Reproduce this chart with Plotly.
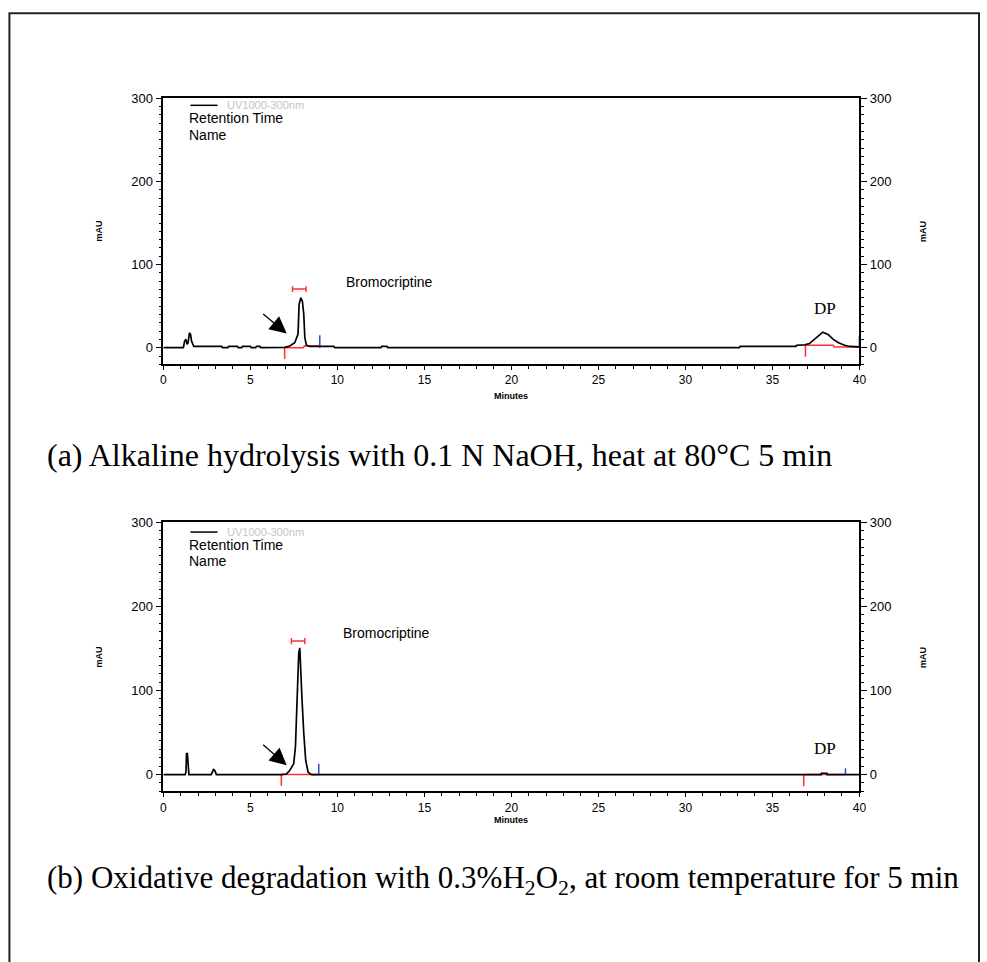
import plotly.graph_objects as go

# ---------------- data: chromatogram (a) alkaline hydrolysis ----------------
time_a = [0, 1.15, 1.22, 1.3, 1.36, 1.42, 1.5, 1.56, 1.62, 1.7, 1.75, 3.35, 3.4, 3.7, 3.75, 4.25, 4.3,
          4.5, 4.55, 5.0, 5.05, 5.3, 5.35, 5.55, 5.6, 6.97, 7.26, 7.55, 7.74, 7.8, 7.9, 7.99, 8.07,
          8.13, 8.22, 8.41, 9.8, 9.85, 12.5, 12.55, 12.85, 12.9, 33.1, 33.15, 36.35, 36.4, 36.85,
          37.13, 37.5, 37.9, 38.2, 38.5, 38.8, 39.15, 39.45, 40]
mau_a = [0, 0, 8, 10, 4, 6, 18, 16, 8, 2, 1.5, 1.5, 0, 0, 1.5, 1.5, 0,
         0, 1.5, 1.5, 0, 0, 1.5, 1.5, 0, 0.5, 2, 6, 16.5, 52, 60, 56, 40,
         12, 3, 1.5, 1.5, 0, 0, 1.5, 1.5, 0, 0, 1.5, 1.5, 3, 3.5,
         5, 11.6, 18.7, 16, 10, 6, 3, 1.5, 1]

# ---------------- data: chromatogram (b) oxidative degradation --------------
time_b = [0, 1.25, 1.3, 1.33, 1.38, 1.42, 1.47, 2.75, 2.88, 2.95, 3.05, 6.78, 7.07, 7.26, 7.49,
          7.59, 7.7, 7.78, 7.84, 7.9, 7.97, 8.07, 8.18, 8.32, 8.51, 37.8, 37.82, 38.13, 38.15, 40]
mau_b = [0, 0, 3, 25, 25, 5, 0, 0, 6, 5, 0, 0, 0.7, 4.8, 12.8,
         32.8, 88.8, 144.8, 150.8, 128.8, 88.8, 48.8, 16.8, 2.8, 0, 0, 1.6, 1.6, 0, 0]

# integration markers (red baselines / drop lines, blue end ticks, red brackets)
red_a_x = [6.97, 6.97, None, 6.97, 8.05, 8.1, 8.99, None, 36.9, 36.9, None, 36.9, 38.5, 38.55, 40]
red_a_y = [0, -13.6, None, 0, 0, 2, 2, None, 3, -11, None, 3, 3, 1, 1]
blue_a_x = [8.99, 8.99, None, 40, 40]
blue_a_y = [0, 15, None, 0, 14]
brk_a_x = [7.42, 7.42, None, 7.42, 8.2, None, 8.2, 8.2]
brk_a_y = [67, 74, None, 70.6, 70.6, None, 67, 74]

red_b_x = [6.78, 6.78, None, 6.78, 8.93, None, 36.8, 36.8, None, 36.8, 39.2]
red_b_y = [0, -13.2, None, 0, 0, None, 0, -14, None, 0, 0]
blue_b_x = [8.93, 8.93, None, 39.2, 39.2]
blue_b_y = [0, 12.8, None, 0, 7.6]
brk_b_x = [7.36, 7.36, None, 7.36, 8.13, None, 8.13, 8.13]
brk_b_y = [155, 162.5, None, 158.8, 158.8, None, 155, 162.5]

# labels
peak_label = "Bromocriptine"
peak_label_a = (13.0, 79.5)
peak_label_b = (12.8, 169)
dp_label_a = (38.04, 46.6)
dp_label_b = (38.0, 30.8)
arrow_a = {"tail": (5.65, 42), "head": (7.09, 17)}
arrow_b = {"tail": (5.65, 37), "head": (7.09, 11)}
x_ticks = [0, 5, 10, 15, 20, 25, 30, 35, 40]
y_ticks = [0, 100, 200, 300]
caption_a = "(a) Alkaline hydrolysis with 0.1 N NaOH, heat at 80°C 5 min"
caption_b = "(b) Oxidative degradation with 0.3%H<sub>2</sub>O<sub>2</sub>, at room temperature for 5 min"

W, H = 987, 962
# small correction for the way the page is photographed (measured on an earlier render)
SX, OX, SY, OY = 0.987, 4.1, 0.9926, 6.7
def px(x):
    return min(max((x - OX) / SX, 0), W - 1) / W
def py(y):
    return 1 - min(max((y - OY) / SY, 0), H) / H

fig = go.Figure()
# chromatograms on the right-hand axes (same scale as left), markers on the left-hand axes
for xs, ys, xa, ya in [(time_a, mau_a, "x", "y3"), (time_b, mau_b, "x2", "y4")]:
    fig.add_trace(go.Scatter(x=xs, y=ys, mode="lines", line=dict(color="black", width=1.7),
                             xaxis=xa, yaxis=ya, showlegend=False, hoverinfo="skip"))
for xs, ys, col, xa, ya in [(red_a_x, red_a_y, "#ff3030", "x", "y"), (blue_a_x, blue_a_y, "#3050c0", "x", "y"),
                            (brk_a_x, brk_a_y, "#ff3030", "x", "y"),
                            (red_b_x, red_b_y, "#ff3030", "x2", "y2"), (blue_b_x, blue_b_y, "#3050c0", "x2", "y2"),
                            (brk_b_x, brk_b_y, "#ff3030", "x2", "y2")]:
    fig.add_trace(go.Scatter(x=xs, y=ys, mode="lines", line=dict(color=col, width=1.5),
                             xaxis=xa, yaxis=ya, showlegend=False, hoverinfo="skip", connectgaps=False))

tickfont = dict(family="Arial, Liberation Sans", size=13, color="black")
xtickfont = dict(family="Arial, Liberation Sans", size=12, color="black")
xdom = [px(164), px(858)]
dom_a = [py(364), py(98)]
dom_b = [py(791), py(522)]

def xaxis_cfg(anchor):
    return dict(domain=xdom, anchor=anchor, range=[0, 40], showline=True, linecolor="black",
                linewidth=1.5, mirror=True, ticks="outside", tickvals=x_ticks, ticklen=4,
                tickcolor="black", tickwidth=1.2, tickfont=xtickfont,
                minor=dict(dtick=1, tick0=0, ticks="outside", ticklen=3, tickcolor="black", tickwidth=1),
                showgrid=False, zeroline=False, fixedrange=True)

def yaxis_cfg(dom, anchor, side="left", overlaying=None):
    d = dict(domain=dom, anchor=anchor, range=[-20, 300], side=side, showline=True, linecolor="black",
             linewidth=1.5, ticks="outside", tickvals=y_ticks, ticklen=6, tickcolor="black",
             tickwidth=1.2, tickfont=tickfont,
             minor=dict(dtick=10, tick0=0, ticks="outside", ticklen=3, tickcolor="black", tickwidth=1),
             showgrid=False, zeroline=False, fixedrange=True)
    if overlaying:
        d["overlaying"] = overlaying
    return d

fig.update_layout(
    width=W, height=H, margin=dict(l=0, r=0, t=0, b=0),
    paper_bgcolor="white", plot_bgcolor="rgba(0,0,0,0)",
    xaxis=xaxis_cfg("y"), yaxis=yaxis_cfg(dom_a, "x"),
    xaxis2=xaxis_cfg("y2"), yaxis2=yaxis_cfg(dom_b, "x2"),
    yaxis3=yaxis_cfg(dom_a, "x", side="right", overlaying="y"),
    yaxis4=yaxis_cfg(dom_b, "x2", side="right", overlaying="y2"),
)

ann = []
shapes = []
small = dict(family="Arial, Liberation Sans", size=14, color="black")
for (xa, ya, lab, dp, arr, leg_y, mau_y) in [
        ("x", "y", peak_label_a, dp_label_a, arrow_a, (105, 117.7, 134.3), 231),
        ("x2", "y2", peak_label_b, dp_label_b, arrow_b, (531.7, 545, 561), 657)]:
    ann.append(dict(x=lab[0], y=lab[1], xref=xa, yref=ya, text=peak_label, showarrow=False,
                    xanchor="center", yanchor="middle",
                    font=dict(family="Arial, Liberation Sans", size=14, color="black")))
    ann.append(dict(x=dp[0], y=dp[1], xref=xa, yref=ya, text="DP", showarrow=False,
                    xanchor="center", yanchor="middle",
                    font=dict(family="Liberation Serif, Times New Roman", size=17, color="black")))
    ann.append(dict(x=arr["head"][0], y=arr["head"][1], ax=arr["tail"][0], ay=arr["tail"][1],
                    xref=xa, yref=ya, axref=xa, ayref=ya, text="", showarrow=True,
                    arrowhead=2, arrowsize=2.6, arrowwidth=1.3, arrowcolor="black"))
    ly, ry, ny = leg_y
    shapes.append(dict(type="line", xref="paper", yref="paper", x0=px(191), x1=px(218),
                       y0=py(ly), y1=py(ly), line=dict(color="black", width=1.5)))
    ann.append(dict(x=px(225), y=py(ly), xref="paper", yref="paper", xanchor="left", yanchor="middle",
                    text="UV1000-300nm", showarrow=False,
                    font=dict(family="Arial, Liberation Sans", size=11, color="#c4c4c4")))
    ann.append(dict(x=px(188), y=py(ry), xref="paper", yref="paper", xanchor="left", yanchor="middle",
                    text="Retention Time", showarrow=False, font=small))
    ann.append(dict(x=px(188), y=py(ny), xref="paper", yref="paper", xanchor="left", yanchor="middle",
                    text="Name", showarrow=False, font=small))
    for xc in (100, 922):
        ann.append(dict(x=px(xc), y=py(mau_y), xref="paper", yref="paper", text="<b>mAU</b>",
                        textangle=-90, showarrow=False, xanchor="center", yanchor="middle",
                        font=dict(family="Arial, Liberation Sans", size=9, color="black")))

for yc in (396, 820):
    ann.append(dict(x=px(511), y=py(yc), xref="paper", yref="paper", text="<b>Minutes</b>",
                    showarrow=False, xanchor="center", yanchor="middle",
                    font=dict(family="Arial, Liberation Sans", size=9, color="black")))

ann.append(dict(x=px(46), y=py(455), xref="paper", yref="paper", xanchor="left", yanchor="middle",
                text=caption_a, showarrow=False,
                font=dict(family="Liberation Serif, Times New Roman", size=32, color="black")))
ann.append(dict(x=px(46), y=py(880), xref="paper", yref="paper", xanchor="left", yanchor="middle",
                text=caption_b, showarrow=False,
                font=dict(family="Liberation Serif, Times New Roman", size=31, color="black")))

# outer frame (its bottom edge lies below the visible page)
shapes.append(dict(type="rect", xref="paper", yref="paper", x0=px(10.5), x1=px(985),
                   y0=-0.05, y1=py(13), line=dict(color="#222222", width=2)))

fig.update_layout(annotations=ann, shapes=shapes)
fig.write_html("out.html")
